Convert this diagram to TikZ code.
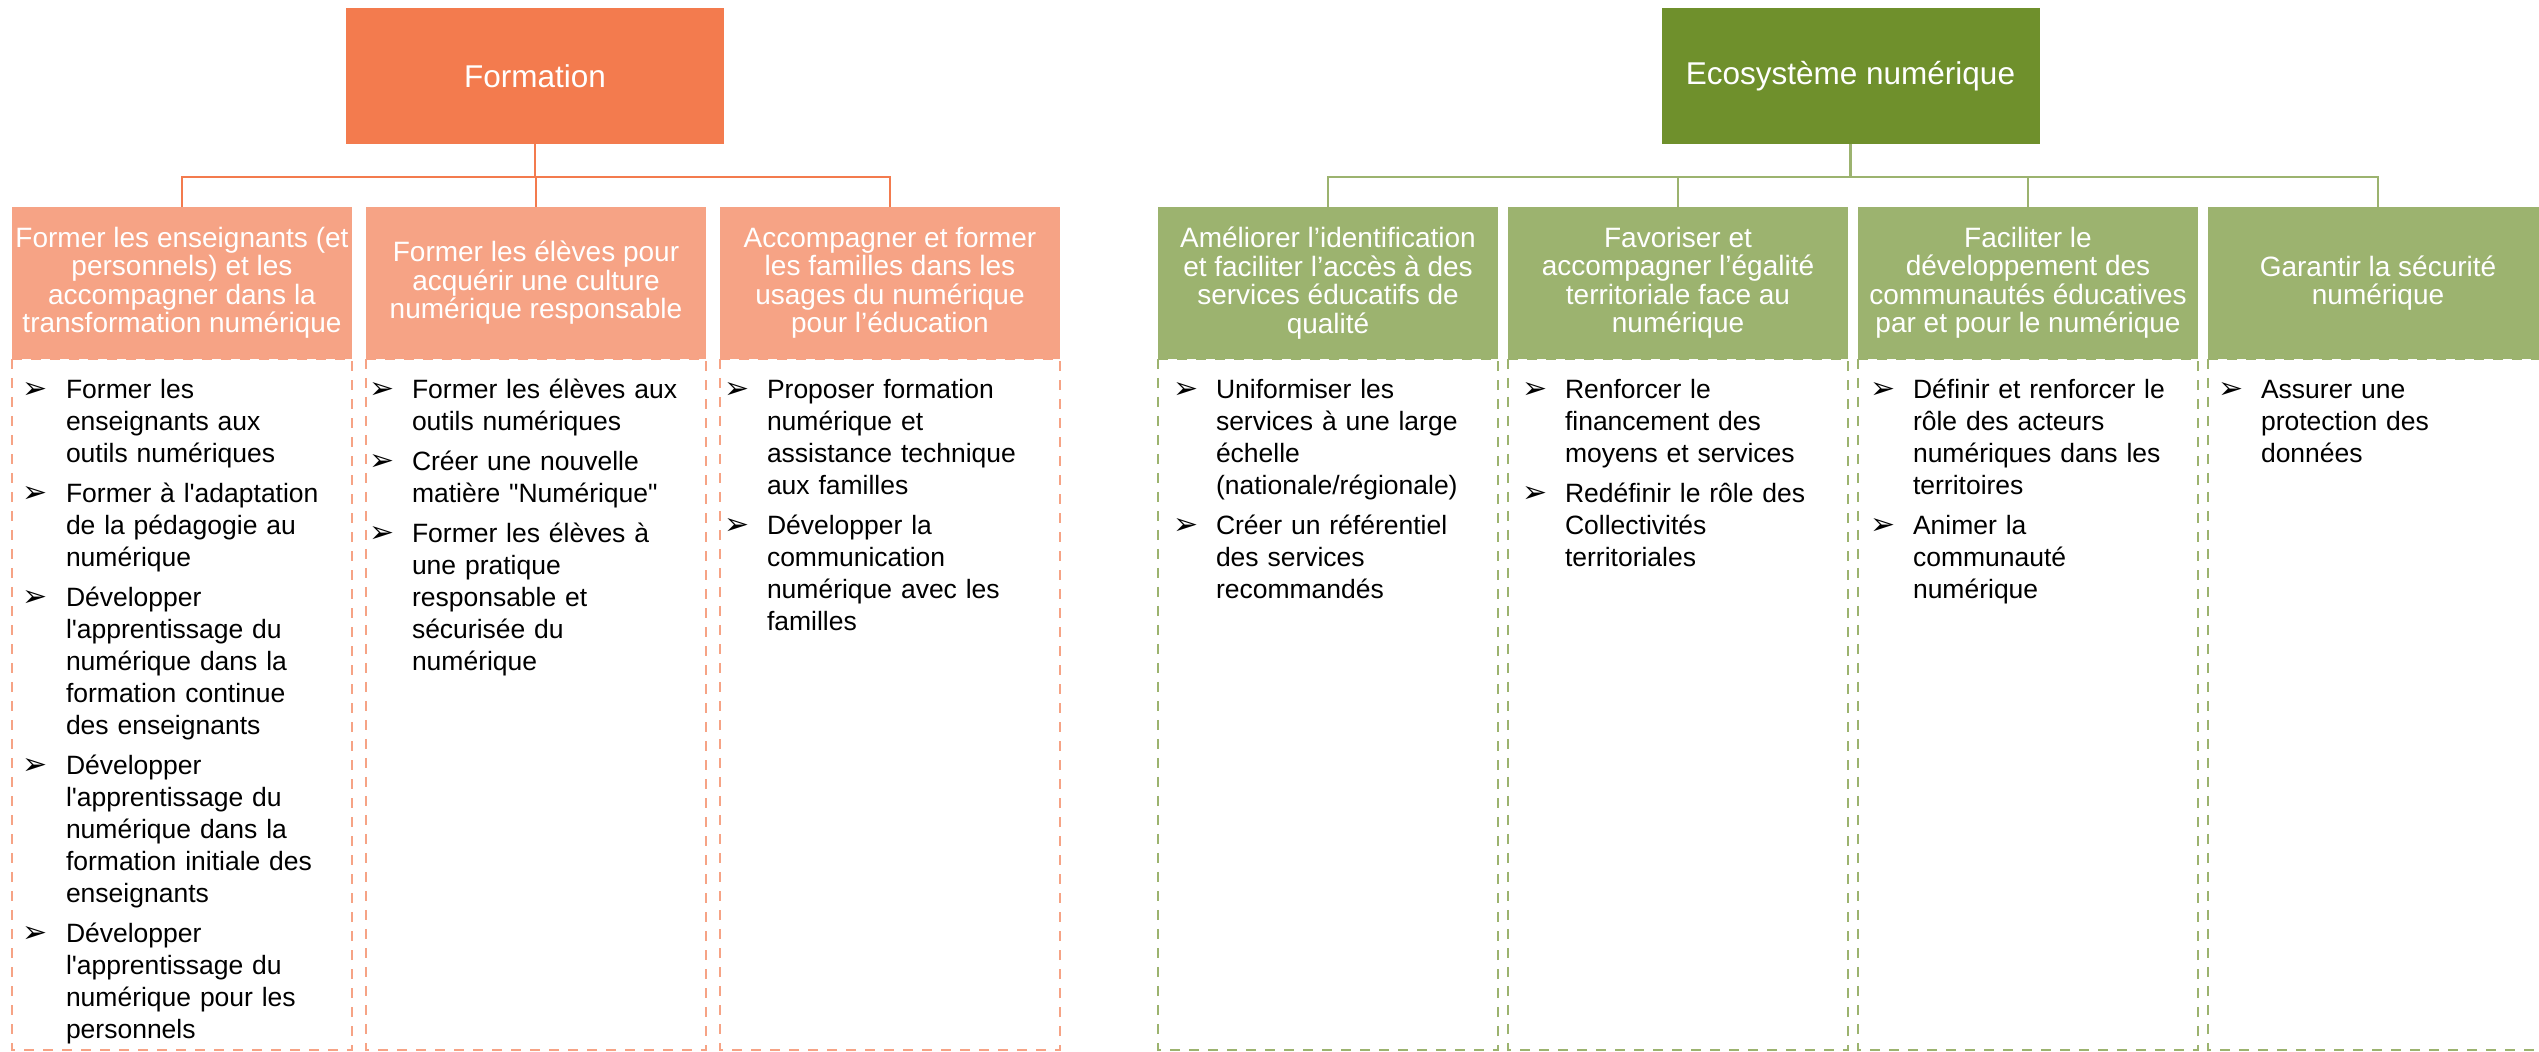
\documentclass[tikz,border=0pt]{standalone}
\usepackage{fontspec}
\setmainfont{Liberation Sans}
\newfontfamily\dejavu{DejaVu Sans}
\usepackage{tikz}

\definecolor{formfonce}{HTML}{F37B4E}
\definecolor{formclair}{HTML}{F6A385}
\definecolor{ecofonce}{HTML}{6F902C}
\definecolor{ecoclair}{HTML}{9CB36F}

% liste a puces en fleche
\newenvironment{fleches}
{\begin{list}{\makebox[21.5pt][l]{\dejavu\fontsize{15}{15}\selectfont\char"27A2}\strut}
 {\setlength{\leftmargin}{21.5pt}\setlength{\labelwidth}{21.5pt}\setlength{\labelsep}{0pt}%
  \setlength{\itemindent}{0pt}\setlength{\itemsep}{4pt}\setlength{\parsep}{0pt}%
  \setlength{\topsep}{0pt}\setlength{\partopsep}{0pt}}\raggedright}
{\end{list}}
\newcommand{\apos}{\textquotesingle}

\begin{document}
\begin{tikzpicture}[x=0.5pt, y=-0.5pt, inner sep=0pt, outer sep=0pt,
    topbox/.style={minimum width=189pt, minimum height=68pt, text=white, font=\fontsize{15.75}{18}\selectfont},
    headbox/.style={anchor=north west, minimum width=170pt, minimum height=76pt, align=center, text=white, font=\fontsize{14}{14.25}\selectfont},
    form_head/.style={headbox, fill=formclair},
    eco_head/.style={headbox, fill=ecoclair},
    listbox/.style={anchor=north west, text width=158pt, font=\fontsize{13.25}{16}\selectfont},
    listframe/.style={line width=1.2pt, dash pattern=on 5pt off 4.5pt},
    form_frame/.style={listframe, draw=formclair},
    eco_frame/.style={listframe, draw=ecoclair},
    form_link/.style={draw=formfonce, line width=1.3pt},
    eco_link/.style={draw=ecoclair, line width=1.3pt}]
    \useasboundingbox (0,0) rectangle (2539,1052);

    % Formation
    \node[topbox, fill=formfonce] (form_top) at (535,76) {Formation};

    \node[form_head] (form_a) at (12,207)
    {Former les enseignants (et\\personnels) et les\\accompagner dans la\\transformation numérique};
    \node[form_head] (form_b) at (366,207)
    {Former les élèves pour\\acquérir une culture\\numérique responsable};
    \node[form_head] (form_c) at (720,207)
    {Accompagner et former\\les familles dans les\\usages du numérique\\pour l’éducation};

    \foreach \b in {form_a,form_b,form_c}
    {
    \draw[form_link] (form_top.south) |- ([yshift=15pt]\b.north) -- (\b.north);
    \draw[form_frame] (\b.south west) rectangle ++(340,691);
    }

    \node[listbox] (form_a_list) at ([xshift=5.5pt, yshift=-3.8pt]form_a.south west)
    {\begin{fleches}
    \item Former les\\enseignants aux\\outils numériques
    \item Former à l\apos adaptation\\de la pédagogie au\\numérique
    \item Développer\\l\apos apprentissage du\\numérique dans la\\formation continue\\des enseignants
    \item Développer\\l\apos apprentissage du\\numérique dans la\\formation initiale des\\enseignants
    \item Développer\\l\apos apprentissage du\\numérique pour les\\personnels
    \end{fleches}};

    \node[listbox] (form_b_list) at ([xshift=1.5pt, yshift=-3.8pt]form_b.south west)
    {\begin{fleches}
    \item Former les élèves aux\\outils numériques
    \item Créer une nouvelle\\matière \textquotedbl Numérique\textquotedbl
    \item Former les élèves à\\une pratique\\responsable et\\sécurisée du\\numérique
    \end{fleches}};

    \node[listbox] (form_c_list) at ([xshift=2pt, yshift=-3.8pt]form_c.south west)
    {\begin{fleches}
    \item Proposer formation\\numérique et\\assistance technique\\aux familles
    \item Développer la\\communication\\numérique avec les\\familles
    \end{fleches}};

    % Ecosysteme numerique
    \node[topbox, fill=ecofonce] (eco_top) at (1850.5,76) {Ecosystème numérique};

    \node[eco_head] (eco_a) at (1158,207)
    {Améliorer l’identification\\et faciliter l’accès à des\\services éducatifs de\\qualité};
    \node[eco_head] (eco_b) at (1508,207)
    {Favoriser et\\accompagner l’égalité\\territoriale face au\\numérique};
    \node[eco_head] (eco_c) at (1858,207)
    {Faciliter le\\développement des\\communautés éducatives\\par et pour le numérique};
    \node[eco_head] (eco_d) at (2208,207)
    {Garantir la sécurité\\numérique};

    \foreach \b in {eco_a,eco_b,eco_c,eco_d}
    {
    \draw[eco_link] (eco_top.south) |- ([yshift=15pt]\b.north) -- (\b.north);
    \draw[eco_frame] (\b.south west) rectangle ++(340,691);
    }

    \node[listbox] (eco_a_list) at ([xshift=7.5pt, yshift=-3.8pt]eco_a.south west)
    {\begin{fleches}
    \item Uniformiser les\\services à une large\\échelle\\(nationale/régionale)
    \item Créer un référentiel\\des services\\recommandés
    \end{fleches}};

    \node[listbox] (eco_b_list) at ([xshift=7pt, yshift=-3.8pt]eco_b.south west)
    {\begin{fleches}
    \item Renforcer le\\financement des\\moyens et services
    \item Redéfinir le rôle des\\Collectivités\\territoriales
    \end{fleches}};

    \node[listbox] (eco_c_list) at ([xshift=6pt, yshift=-3.8pt]eco_c.south west)
    {\begin{fleches}
    \item Définir et renforcer le\\rôle des acteurs\\numériques dans les\\territoires
    \item Animer la\\communauté\\numérique
    \end{fleches}};

    \node[listbox] (eco_d_list) at ([xshift=5pt, yshift=-3.8pt]eco_d.south west)
    {\begin{fleches}
    \item Assurer une\\protection des\\données
    \end{fleches}};

\end{tikzpicture}
\end{document}
